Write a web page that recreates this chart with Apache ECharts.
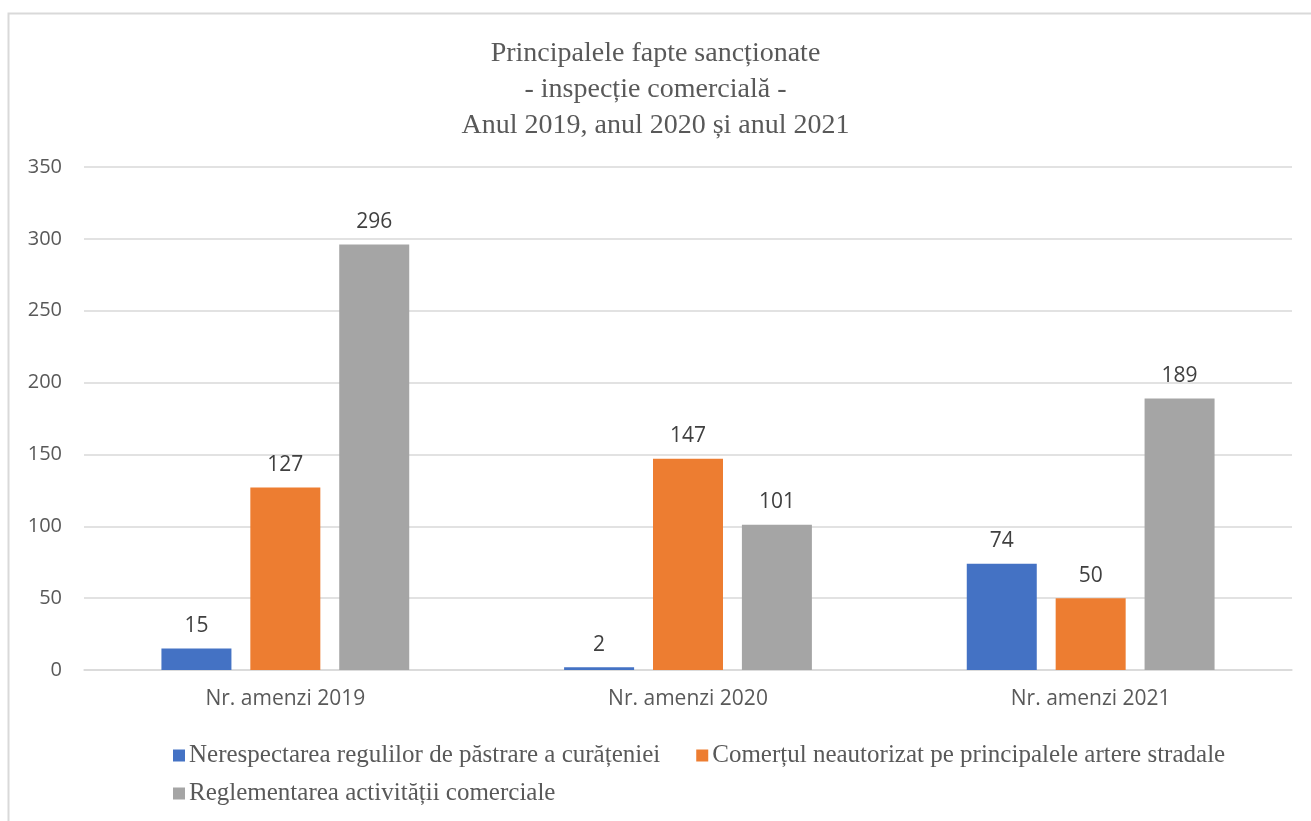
<!DOCTYPE html>
<html>
<head>
<meta charset="utf-8">
<script src="https://cdn.jsdelivr.net/npm/echarts@6/dist/echarts.min.js"></script>
<style>
  html, body { margin: 0; padding: 0; background: #fff; }
  #chart { width: 1311px; height: 821px; }
</style>
</head>
<body>
<div id="chart"></div>
<script>
// categorii si valori
const categories = ['Nr. amenzi 2019', 'Nr. amenzi 2020', 'Nr. amenzi 2021']
const seriesNames = [
  'Nerespectarea regulilor de păstrare a curățeniei',
  'Comerțul neautorizat pe principalele artere stradale',
  'Reglementarea activității comerciale'
]
const curatenie = [15, 2, 74]
const comert = [127, 147, 50]
const reglementare = [296, 101, 189]
const colors = ['#4472C4', '#ED7D31', '#A5A5A5']
const titleText = 'Principalele fapte sancționate\n- inspecție comercială -\nAnul 2019, anul 2020 și anul 2021'

const chart = echarts.init(document.getElementById('chart'))

const sansFont = 'Open Sans'
const serifFont = 'Liberation Serif'

function makeSeries(name, data, color) {
  return {
    name: name,
    type: 'bar',
    data: data,
    barWidth: 70,
    barGap: '27%',
    itemStyle: { color: color },
    label: {
      show: true,
      position: 'top',
      distance: 12,
      color: '#404040',
      fontFamily: sansFont,
      fontSize: 21
    }
  }
}

const legendText = { fontFamily: serifFont, fontSize: 25, color: '#595959', padding: [0, 0, 0, -1] }

const option = {
  animation: false,
  backgroundColor: '#fff',
  graphic: [{
    type: 'rect',
    shape: { x: 8.5, y: 13.5, width: 1320, height: 830 },
    style: { fill: 'none', stroke: '#d9d9d9', lineWidth: 2 },
    silent: true
  }],
  title: {
    text: titleText,
    left: 'center',
    top: 31,
    textStyle: {
      fontFamily: serifFont,
      fontWeight: 'normal',
      fontSize: 28,
      color: '#595959',
      lineHeight: 36
    }
  },
  legend: [{
    data: [seriesNames[0], seriesNames[1]],
    left: 168,
    top: 738,
    itemWidth: 12,
    itemHeight: 12,
    itemGap: 36,
    icon: 'rect',
    textStyle: legendText
  }, {
    data: [seriesNames[2]],
    left: 168,
    top: 776,
    itemWidth: 12,
    itemHeight: 12,
    icon: 'rect',
    textStyle: legendText
  }],
  grid: {
    left: 84,
    right: 19,
    top: 167,
    bottom: 151,
    containLabel: false
  },
  xAxis: {
    type: 'category',
    data: categories,
    axisTick: { show: false },
    axisLine: { lineStyle: { color: '#d9d9d9', width: 1.5 } },
    axisLabel: {
      margin: 19,
      color: '#595959',
      fontFamily: sansFont,
      fontSize: 21
    }
  },
  yAxis: {
    type: 'value',
    min: 0,
    max: 350,
    interval: 50,
    axisLine: { show: false },
    axisTick: { show: false },
    axisLabel: {
      margin: 22,
      color: '#595959',
      fontFamily: sansFont,
      fontSize: 20
    },
    splitLine: { lineStyle: { color: '#d9d9d9', width: 1.5 } }
  },
  series: [
    makeSeries(seriesNames[0], curatenie, colors[0]),
    makeSeries(seriesNames[1], comert, colors[1]),
    makeSeries(seriesNames[2], reglementare, colors[2])
  ]
}

chart.setOption(option)
window.addEventListener('resize', function () {
  chart.resize()
})
</script>
</body>
</html>
